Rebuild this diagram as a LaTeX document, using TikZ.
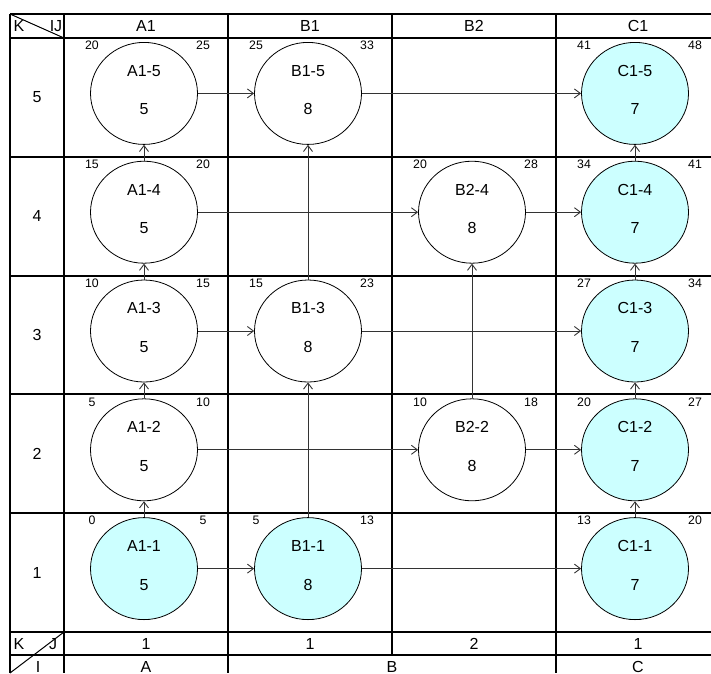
\documentclass[tikz,border=0pt]{standalone}
\usepackage{fontspec}
\setmainfont{Liberation Sans}
\usetikzlibrary{arrows.meta,shapes.geometric}
\definecolor{cyanfill}{HTML}{CCFFFF}
\tikzset{
  grid/.style={line width=2pt, black},
  act/.style={ellipse, draw=black, line width=0.8pt, minimum width=107pt, minimum height=102pt, inner sep=0pt},
  big/.style={font=\fontsize{16}{18}\selectfont, inner sep=0pt},
  small/.style={font=\fontsize{12.3}{14}\selectfont, inner sep=0pt},
  arr/.style={line width=0.9pt, black!80, -{Straight Barb[length=6pt,width=9pt]}}
}
\newcommand{\actnode}[8]{%
  \node[act, fill=#8] (#1) at (#2,#3) {};
  \node[big] (#1-n) at (#2,#3-22.7) {#4};
  \node[big] (#1-d) at (#2,#3+16) {#7};
}
\newcommand{\timelbl}[5]{%
  \node[small] (#1-es) at (#2+28,#3+7.5) {#4};
  \node[small] (#1-ef) at (#2+139,#3+7.5) {#5};
}
\begin{document}
\begin{tikzpicture}[x=1pt,y=-1pt]
\useasboundingbox (0,0) rectangle (711,673);
% grid
\foreach \yy in {14,38,156.8,275.6,394.4,513.2,632,655} \draw[grid] (10,\yy) -- (711,\yy);
\foreach \xx in {10,64,228,556} \draw[grid] (\xx,14) -- (\xx,673);
\draw[grid] (392,14) -- (392,655);
\draw[line width=1pt] (10,14) -- (64,38);
\draw[line width=1pt] (10,673) -- (64,632);
% header
\node[big] (hK) at (19,26) {K};
\node[big] (hIJ) at (56,26) {IJ};
\node[big] (hA1) at (146,26) {A1};
\node[big] (hB1) at (310,26) {B1};
\node[big] (hB2) at (474,26) {B2};
\node[big] (hC1) at (638,26) {C1};
% row labels
\node[big] (r5) at (37,97.4) {5};
\node[big] (r4) at (37,216.2) {4};
\node[big] (r3) at (37,335) {3};
\node[big] (r2) at (37,453.8) {2};
\node[big] (r1) at (37,572.6) {1};
% footer
\node[big] (fK) at (19,644) {K};
\node[big] (fJ) at (53,644) {J};
\node[big] (fI) at (38,667) {I};
\node[big] (fj1) at (146,644) {1};
\node[big] (fj2) at (310,644) {1};
\node[big] (fj3) at (474,644) {2};
\node[big] (fj4) at (638,644) {1};
\node[big] (fiA) at (146,667) {A};
\node[big] (fiB) at (392,667) {B};
\node[big] (fiC) at (638,667) {C};
% activities
\actnode{A15}{144}{93.4}{A1-5}{20}{25}{5}{white}
\actnode{A14}{144}{212.2}{A1-4}{15}{20}{5}{white}
\actnode{A13}{144}{331}{A1-3}{10}{15}{5}{white}
\actnode{A12}{144}{449.8}{A1-2}{5}{10}{5}{white}
\actnode{A11}{144}{568.6}{A1-1}{0}{5}{5}{cyanfill}
\actnode{B15}{308}{93.4}{B1-5}{25}{33}{8}{white}
\actnode{B13}{308}{331}{B1-3}{15}{23}{8}{white}
\actnode{B11}{308}{568.6}{B1-1}{5}{13}{8}{cyanfill}
\actnode{B24}{472}{212.2}{B2-4}{20}{28}{8}{white}
\actnode{B22}{472}{449.8}{B2-2}{10}{18}{8}{white}
\actnode{C15}{635}{93.4}{C1-5}{41}{48}{7}{cyanfill}
\actnode{C14}{635}{212.2}{C1-4}{34}{41}{7}{cyanfill}
\actnode{C13}{635}{331}{C1-3}{27}{34}{7}{cyanfill}
\actnode{C12}{635}{449.8}{C1-2}{20}{27}{7}{cyanfill}
\actnode{C11}{635}{568.6}{C1-1}{13}{20}{7}{cyanfill}
% times
\timelbl{A15}{64}{38}{20}{25}
\timelbl{A14}{64}{156.8}{15}{20}
\timelbl{A13}{64}{275.6}{10}{15}
\timelbl{A12}{64}{394.4}{5}{10}
\timelbl{A11}{64}{513.2}{0}{5}
\timelbl{B15}{228}{38}{25}{33}
\timelbl{B13}{228}{275.6}{15}{23}
\timelbl{B11}{228}{513.2}{5}{13}
\timelbl{B24}{392}{156.8}{20}{28}
\timelbl{B22}{392}{394.4}{10}{18}
\timelbl{C15}{556}{38}{41}{48}
\timelbl{C14}{556}{156.8}{34}{41}
\timelbl{C13}{556}{275.6}{27}{34}
\timelbl{C12}{556}{394.4}{20}{27}
\timelbl{C11}{556}{513.2}{13}{20}
% arrows
\draw[arr] (A11) -- (A12);
\draw[arr] (A12) -- (A13);
\draw[arr] (A13) -- (A14);
\draw[arr] (A14) -- (A15);
\draw[arr] (C11) -- (C12);
\draw[arr] (C12) -- (C13);
\draw[arr] (C13) -- (C14);
\draw[arr] (C14) -- (C15);
\draw[arr] (B11) -- (B13);
\draw[arr] (B13) -- (B15);
\draw[arr] (B22) -- (B24);
\draw[arr] (A15) -- (B15);
\draw[arr] (B15) -- (C15);
\draw[arr] (A14) -- (B24);
\draw[arr] (B24) -- (C14);
\draw[arr] (A13) -- (B13);
\draw[arr] (B13) -- (C13);
\draw[arr] (A12) -- (B22);
\draw[arr] (B22) -- (C12);
\draw[arr] (A11) -- (B11);
\draw[arr] (B11) -- (C11);
\end{tikzpicture}
\end{document}
